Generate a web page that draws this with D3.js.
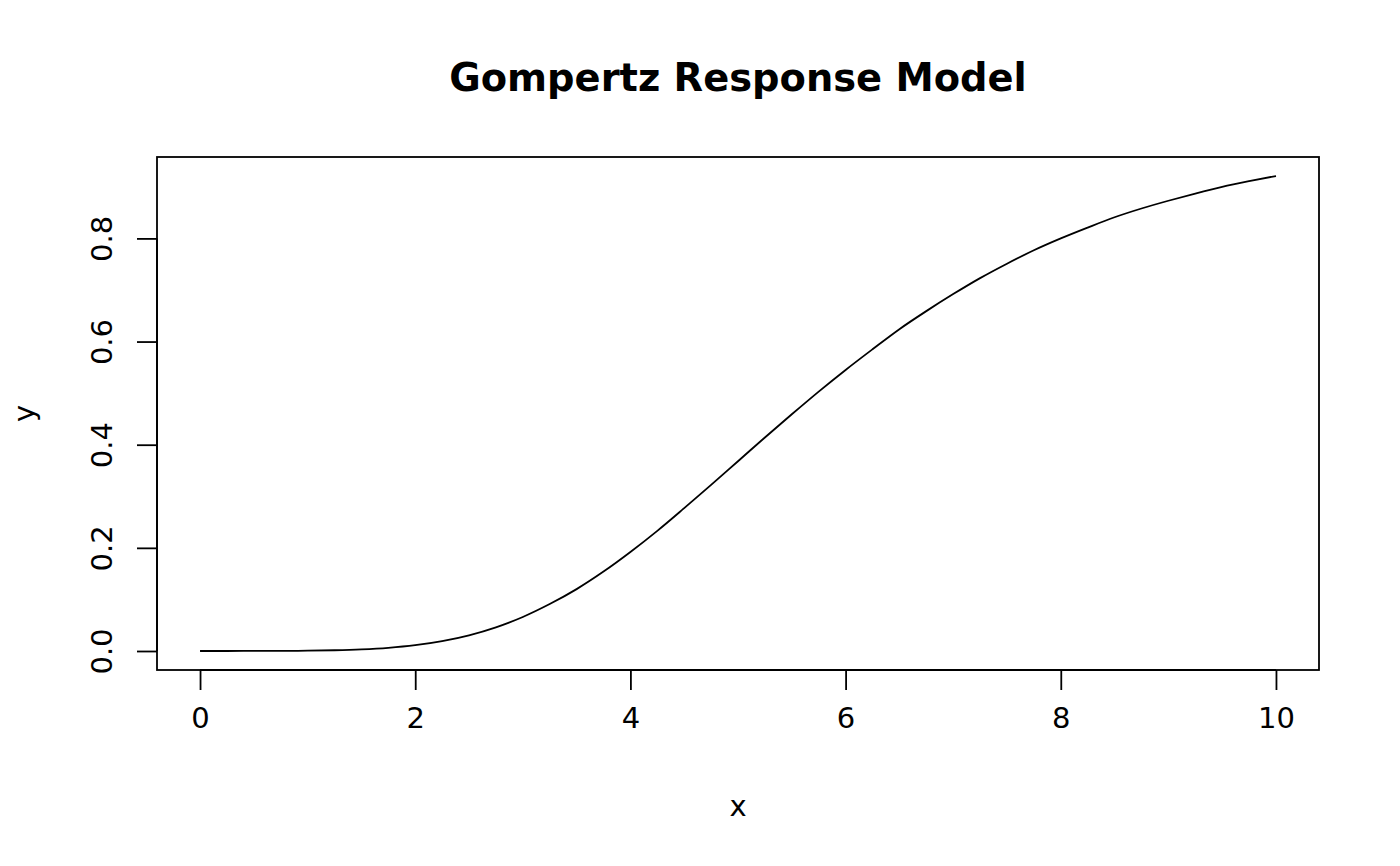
<!DOCTYPE html>
<html>
<head>
<meta charset="utf-8">
<script src="https://cdn.jsdelivr.net/npm/d3@7"></script>
<style>
  html, body { margin: 0; padding: 0; background: #fff; }
  svg { display: block; }
  text { font-family: "DejaVu Sans", sans-serif; fill: #000; }
</style>
</head>
<body>
<svg id="chart" width="1400" height="866"></svg>
<script>
// Data
const xValues = [0, 0.25, 0.5, 0.75, 1, 1.25, 1.5, 1.75, 2, 2.25, 2.5, 2.75, 3, 3.25, 3.5, 3.75,
  4, 4.25, 4.5, 4.75, 5, 5.25, 5.5, 5.75, 6, 6.25, 6.5, 6.75, 7, 7.25, 7.5, 7.75,
  8, 8.25, 8.5, 8.75, 9, 9.25, 9.5, 9.75, 10];
const yValues = [0.0000, 0.0000, 0.0001, 0.0002, 0.0006, 0.0015, 0.0032, 0.0062, 0.0113, 0.0192, 0.0305, 0.0460,
  0.066, 0.091, 0.120, 0.154, 0.192, 0.233, 0.277, 0.322, 0.368, 0.414, 0.459, 0.503,
  0.545, 0.585, 0.624, 0.659, 0.692, 0.723, 0.751, 0.777, 0.800, 0.821, 0.841, 0.858,
  0.873, 0.887, 0.900, 0.911, 0.921];
const xTicks = [0, 2, 4, 6, 8, 10];
const yTicks = [0.0, 0.2, 0.4, 0.6, 0.8];
const titleText = "Gompertz Response Model";
const xLabel = "x";
const yLabel = "y";

const points = xValues.map((x, i) => ({x, y: yValues[i]}));

const box = {left: 157, right: 1319, top: 157, bottom: 670};

// R-style 4% range extension
function ext(e) { const [a, b] = e; const d = (b - a) * 0.04; return [a - d, b + d]; }

const x = d3.scaleLinear().domain(ext(d3.extent(xValues))).range([box.left, box.right]);
const y = d3.scaleLinear().domain(ext(d3.extent(yValues))).range([box.bottom, box.top]);

const svg = d3.select("#chart");
const lw = 1.8;

// Curve
svg.append("path")
  .datum(points)
  .attr("fill", "none")
  .attr("stroke", "#000")
  .attr("stroke-width", lw)
  .attr("d", d3.line().x(d => x(d.x)).y(d => y(d.y)).curve(d3.curveMonotoneX));

// Box
svg.append("rect")
  .attr("x", box.left).attr("y", box.top)
  .attr("width", box.right - box.left).attr("height", box.bottom - box.top)
  .attr("fill", "none").attr("stroke", "#000").attr("stroke-width", lw);

// X axis
const xAxis = svg.append("g")
  .attr("transform", `translate(0,${box.bottom})`)
  .call(d3.axisBottom(x).tickValues(xTicks).tickSize(20).tickSizeOuter(0).tickPadding(17)
    .tickFormat(d3.format("d")));
xAxis.select(".domain").remove();
xAxis.append("line").attr("x1", x(xTicks[0])).attr("x2", x(xTicks[xTicks.length - 1]))
  .attr("y1", 0).attr("y2", 0).attr("stroke", "#000").attr("stroke-width", lw);
xAxis.selectAll(".tick line").attr("stroke", "#000").attr("stroke-width", lw);
xAxis.selectAll(".tick text").attr("font-family", "DejaVu Sans").attr("font-size", 29).attr("fill", "#000");

// Y axis
const yAxis = svg.append("g")
  .attr("transform", `translate(${box.left},0)`)
  .call(d3.axisLeft(y).tickValues(yTicks).tickSize(20).tickSizeOuter(0).tickFormat(d3.format(".1f")));
yAxis.select(".domain").remove();
yAxis.append("line").attr("y1", y(yTicks[0])).attr("y2", y(yTicks[yTicks.length - 1]))
  .attr("x1", 0).attr("x2", 0).attr("stroke", "#000").attr("stroke-width", lw);
yAxis.selectAll(".tick line").attr("stroke", "#000").attr("stroke-width", lw);
yAxis.selectAll(".tick text")
  .attr("font-family", "DejaVu Sans").attr("font-size", 29).attr("fill", "#000")
  .attr("text-anchor", "middle").attr("dy", null)
  .attr("x", null)
  .attr("transform", "translate(-45,0) rotate(-90)");

// Title
svg.append("text")
  .attr("x", (box.left + box.right) / 2).attr("y", 91)
  .attr("text-anchor", "middle")
  .attr("font-size", 38.4).attr("font-weight", "bold")
  .text(titleText);

// Axis labels
svg.append("text")
  .attr("x", (box.left + box.right) / 2).attr("y", 816)
  .attr("text-anchor", "middle").attr("font-size", 29)
  .text(xLabel);

svg.append("text")
  .attr("transform", `translate(34,${(box.top + box.bottom) / 2}) rotate(-90)`)
  .attr("text-anchor", "middle").attr("font-size", 29)
  .text(yLabel);
</script>
</body>
</html>
